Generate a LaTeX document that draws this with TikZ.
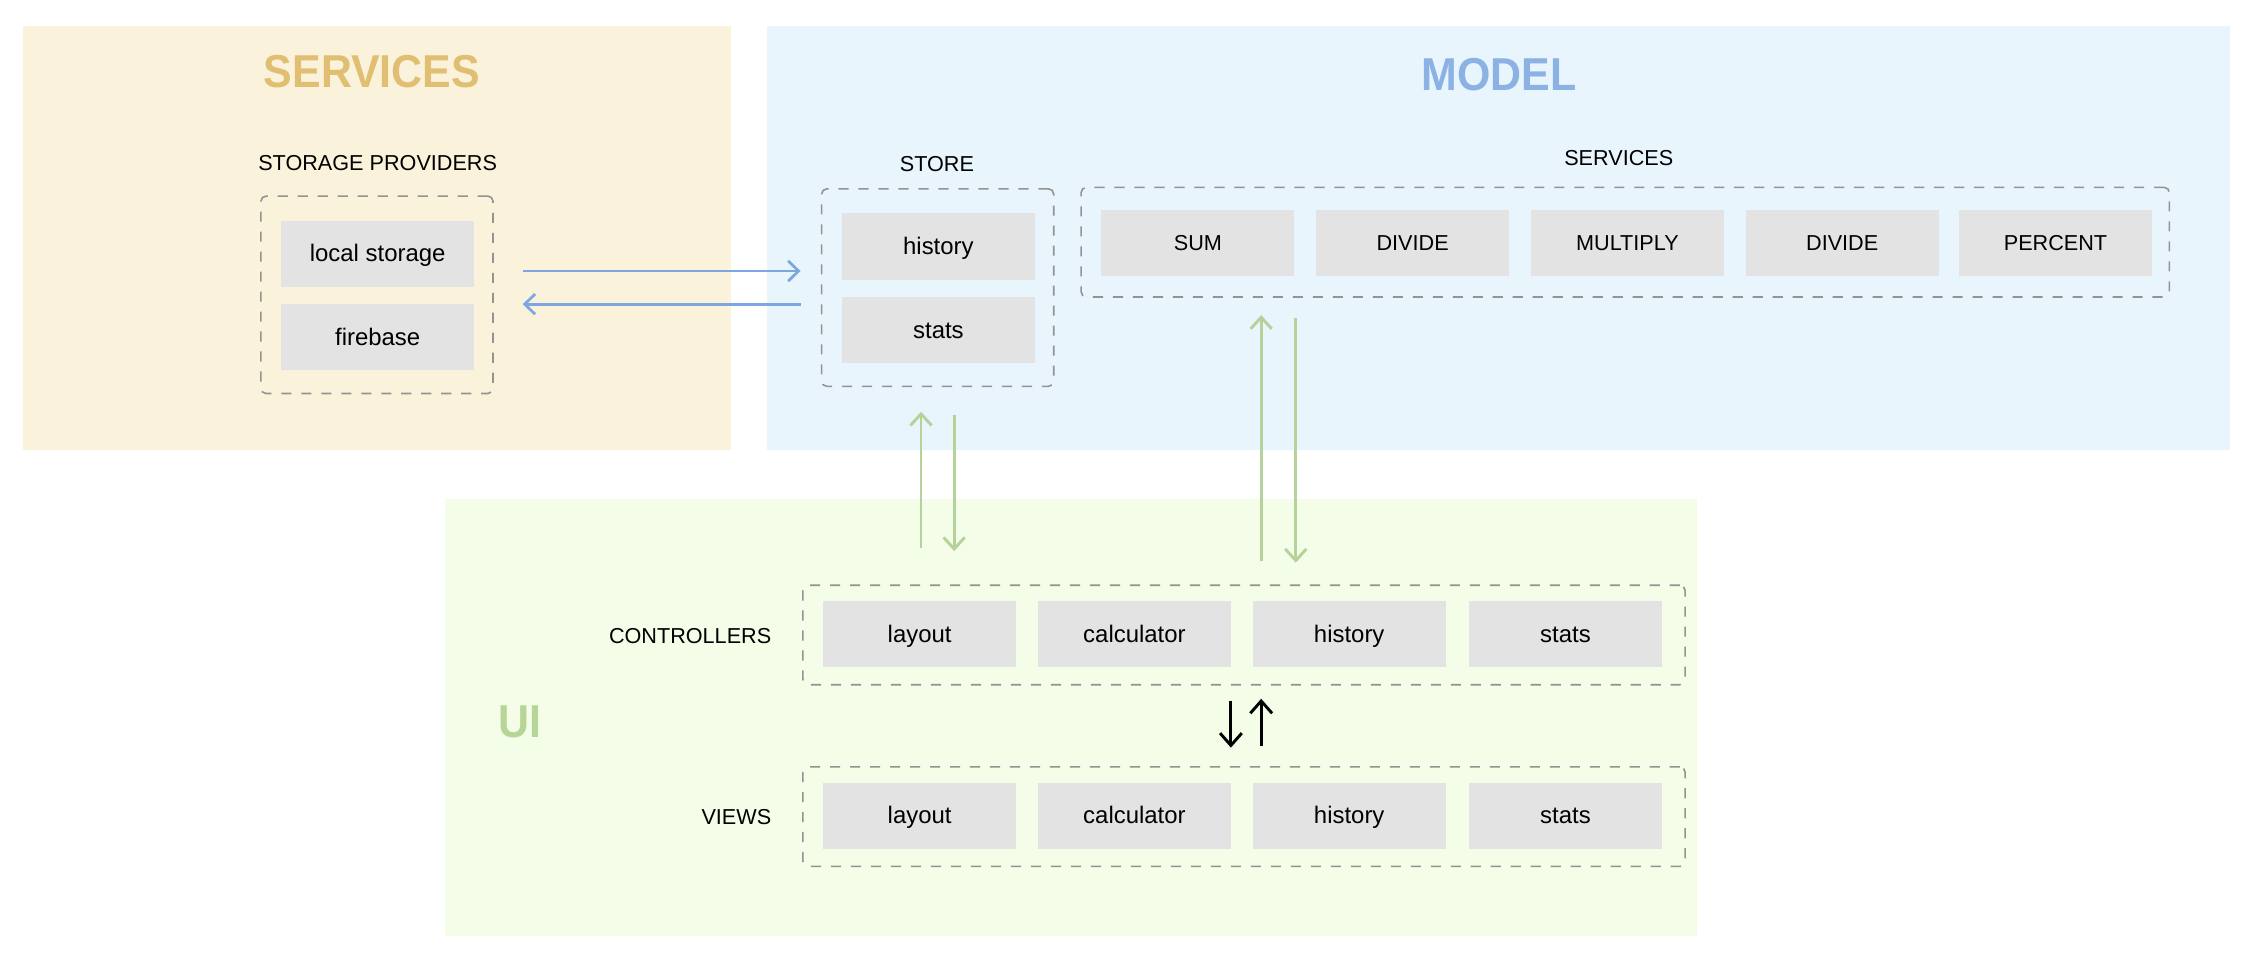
\documentclass[tikz,border=0pt]{standalone}
\usepackage{fontspec}
\setmainfont{Liberation Sans}
\newfontfamily\titlefont[FakeStretch=0.93]{Liberation Sans}
\usetikzlibrary{arrows.meta}
\definecolor{svcbg}{HTML}{FBF2DC}
\definecolor{modbg}{HTML}{E8F5FD}
\definecolor{uibg}{HTML}{F3FDE7}
\definecolor{boxgray}{HTML}{E3E3E3}
\definecolor{dashgray}{HTML}{939393}
\definecolor{goldt}{HTML}{E1BF72}
\definecolor{bluet}{HTML}{8CB2E4}
\definecolor{greent}{HTML}{B8D598}
\definecolor{bluea}{HTML}{7EA7E2}
\definecolor{greena}{HTML}{B4D29A}
\begin{document}
\begin{tikzpicture}[x=0.5pt,y=-0.5pt,
  panel/.style={rectangle, inner sep=0pt, draw=none},
  title/.style={font=\titlefont\fontsize{16}{19}\selectfont\bfseries, inner sep=0pt},
  lbl/.style={font=\fontsize{7.5}{9}\selectfont, inner sep=0pt, text height=0.72em, text depth=0.16em},
  gbox/.style={rectangle, fill=boxgray, minimum width=67pt, minimum height=23pt, inner sep=0pt,
    font=\fontsize{8.3}{10}\selectfont, text height=0.72em, text depth=0.16em},
  ubox/.style={gbox, font=\fontsize{7.5}{9}\selectfont},
  cont/.style={rectangle, draw=dashgray, line width=0.55pt, dash pattern=on 3.5pt off 3.4pt,
    rounded corners=1.8pt, inner sep=0pt},
  barrow/.style={draw=bluea, line width=0.95pt, -{Straight Barb[length=3.6pt,width=7pt]}},
  garrow/.style={draw=greena, line width=1pt, -{Straight Barb[length=4pt,width=7.3pt]}},
  karrow/.style={draw=black, line width=1pt, -{Straight Barb[length=4.25pt,width=7.5pt]}}
]
\useasboundingbox (0,0) rectangle (1560,665.4);
\begin{scope}[scale=0.995, transform shape]
% panels
\node[panel, fill=svcbg, minimum width=245.5pt, minimum height=147pt] (psvc) at (261.5,165) {};
\node[panel, fill=modbg, minimum width=507.5pt, minimum height=147pt] (pmod) at (1039.5,165) {};
\node[panel, fill=uibg, minimum width=434pt, minimum height=151.5pt] (pui) at (743,497.5) {};

% titles
\node[title, text=goldt] (tsvc) at (258,50) {SERVICES};
\node[title, text=bluet] (tmod) at (1040,52) {MODEL};
\node[title, text=greent] (tui) at (361,501) {UI};

% storage providers
\node[lbl] (lprov) at (262,112.5) {STORAGE PROVIDERS};
\node[cont, minimum width=80.5pt, minimum height=68.5pt] (prov) at (261.5,204.5) {};
\node[gbox] (local) at (262,176) {local storage};
\node[gbox] (fire) at (262,234) {firebase};

% store
\node[lbl] (lstore) at (650,113.5) {STORE};
\node[cont, minimum width=80.5pt, minimum height=68.5pt] (store) at (650.5,199.5) {};
\node[gbox] (shist) at (651,171) {history};
\node[gbox] (sstats) at (651,229) {stats};

% model services
\node[lbl] (lserv) at (1123,109.5) {SERVICES};
\node[cont, minimum width=377.5pt, minimum height=38pt] (serv) at (1127.5,168) {};
\node[ubox] (sum) at (831,168.5) {SUM};
\node[ubox] (div1) at (980,168.5) {DIVIDE};
\node[ubox] (mul) at (1129,168.5) {MULTIPLY};
\node[ubox] (div2) at (1278,168.5) {DIVIDE};
\node[ubox] (pct) at (1426,168.5) {PERCENT};

% controllers
\node[cont, minimum width=306pt, minimum height=34.5pt] (ctrl) at (863,440.5) {};
\node[lbl, anchor=east] (lctrl) at ([xshift=-10.5pt]ctrl.west) {CONTROLLERS};
\node[gbox] (clay) at (638,440) {layout};
\node[gbox] (ccalc) at (787,440) {calculator};
\node[gbox] (chist) at (936,440) {history};
\node[gbox] (cstats) at (1086,440) {stats};

% views
\node[cont, minimum width=306pt, minimum height=34.5pt] (views) at (863,566.5) {};
\node[lbl, anchor=east] (lviews) at ([xshift=-10.5pt]views.west) {VIEWS};
\node[gbox] (vlay) at (638,566) {layout};
\node[gbox] (vcalc) at (787,566) {calculator};
\node[gbox] (vhist) at (936,566) {history};
\node[gbox] (vstats) at (1086,566) {stats};

% blue arrows between providers and store
\draw[barrow, shorten <=10pt, shorten >=7pt] ([yshift=8.25pt]prov.east) -- ([yshift=8.25pt]prov.east -| store.west);
\draw[barrow, shorten <=7pt, shorten >=10pt] ([yshift=-3.25pt]prov.east -| store.west) -- ([yshift=-3.25pt]prov.east);

% green arrows store <-> controllers
\coordinate (su) at ([xshift=-5.75pt]store.south);
\coordinate (sd) at ([xshift=5.75pt]store.south);
\draw[garrow, shorten <=12.5pt, shorten >=8.5pt] (su |- ctrl.north) -- (su);
\draw[garrow, shorten <=9.5pt, shorten >=11.5pt] (sd) -- (sd |- ctrl.north);

% green arrows services <-> controllers
\coordinate (cu) at ([xshift=6pt]ctrl.north);
\coordinate (cd) at ([xshift=18pt]ctrl.north);
\draw[garrow, shorten <=8pt, shorten >=6pt] (cu) -- (cu |- serv.south);
\draw[garrow, shorten <=7pt, shorten >=7.5pt] (cd |- serv.south) -- (cd);

% black arrows controllers <-> views
\coordinate (kd) at ([xshift=-4.5pt]ctrl.south);
\coordinate (ku) at ([xshift=6pt]ctrl.south);
\draw[karrow, shorten <=5.2pt, shorten >=6.35pt] (kd) -- (kd |- views.north);
\draw[karrow, shorten <=6.85pt, shorten >=4.6pt] (ku |- views.north) -- (ku);
\end{scope}
\end{tikzpicture}
\end{document}
